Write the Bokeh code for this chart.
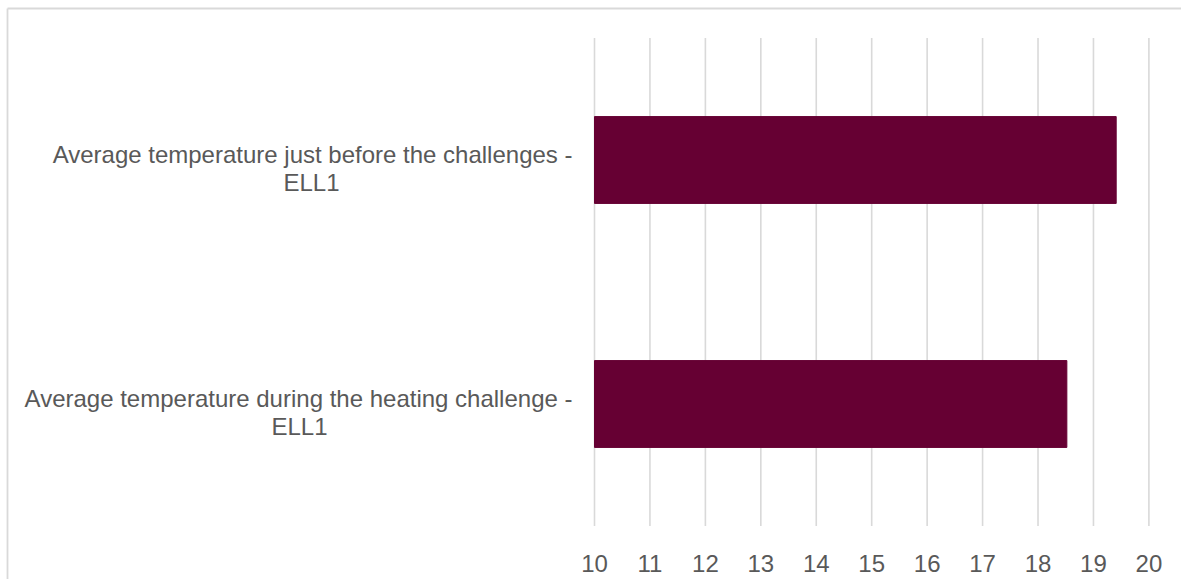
from bokeh.plotting import figure
from bokeh.models import Range1d
from bokeh.embed import file_html
from bokeh.resources import INLINE
from bokeh.core.properties import value

# ---- data ----
categories = [
    "Average temperature just before the challenges -\nELL1",
    "Average temperature during the heating challenge -\nELL1",
]
values = [19.41, 18.52]
bar_base = 10
tick_values = [10, 11, 12, 13, 14, 15, 16, 17, 18, 19, 20]
tick_labels = [str(t) for t in tick_values]

# ---- layout constants (pixels) ----
W, H = 1181, 579
X10_PX = 594.0          # pixel of value 10
PX_PER_UNIT = 55.44     # pixels per value unit
CAT_PX = 244.0          # pixels per category band
FIRST_CAT_PX = 159.5    # pixel (from top) of first category centre

n = len(categories)
x_start = bar_base - X10_PX / PX_PER_UNIT
x_end = x_start + W / PX_PER_UNIT
y_end = n + FIRST_CAT_PX / CAT_PX
y_start = y_end - H / CAT_PX


def xpx(px):
    return x_start + px / PX_PER_UNIT


def ypx(py):
    return y_end - py / CAT_PX


ypos = [n - i for i in range(n)]

FONT = value("Liberation Sans")
TXT = "#595959"
GRID = "#d9d9d9"
BAR = "#660033"

p = figure(width=W, height=H, output_backend="svg", toolbar_location=None,
           x_range=Range1d(x_start, x_end), y_range=Range1d(y_start, y_end),
           min_border=0, outline_line_color=None)
p.xaxis.visible = False
p.yaxis.visible = False
p.grid.visible = False
p.background_fill_color = "white"
p.border_fill_color = "white"

# chart border (left and top edges visible in the crop)
p.segment(x0=[xpx(7), xpx(7)], y0=[ypx(8), ypx(8)],
          x1=[xpx(7), xpx(W + 5)], y1=[ypx(H + 5), ypx(8)],
          line_color=GRID, line_width=1.8)

# vertical gridlines at tick values, spanning the category bands
p.segment(x0=tick_values, x1=tick_values,
          y0=[0.5] * len(tick_values), y1=[n + 0.5] * len(tick_values),
          line_color=GRID, line_width=1.6)

# bars
p.hbar(y=ypos, left=bar_base, right=values, height=0.356,
       fill_color=BAR, line_color=BAR)

# tick labels
p.text(x=tick_values, y=[ypx(563)] * len(tick_values), text=tick_labels,
       text_font=FONT, text_font_size="24px", text_color=TXT,
       text_align="center", text_baseline="alphabetic")

# category labels (two lines each)
line1 = [c.split("\n")[0] for c in categories]
line2 = [c.split("\n")[1] for c in categories]
line2_center_px = [311, 299]
p.text(x=[xpx(572)] * n, y=[y + 5.5 / CAT_PX for y in ypos], text=line1,
       text_font=FONT, text_font_size="24px", text_color=TXT,
       text_align="right", text_baseline="alphabetic")
p.text(x=[xpx(c) for c in line2_center_px], y=[y - 22.0 / CAT_PX for y in ypos],
       text=line2, text_font=FONT, text_font_size="24px", text_color=TXT,
       text_align="center", text_baseline="alphabetic")

open("out.html", "w").write(file_html(p, INLINE))
